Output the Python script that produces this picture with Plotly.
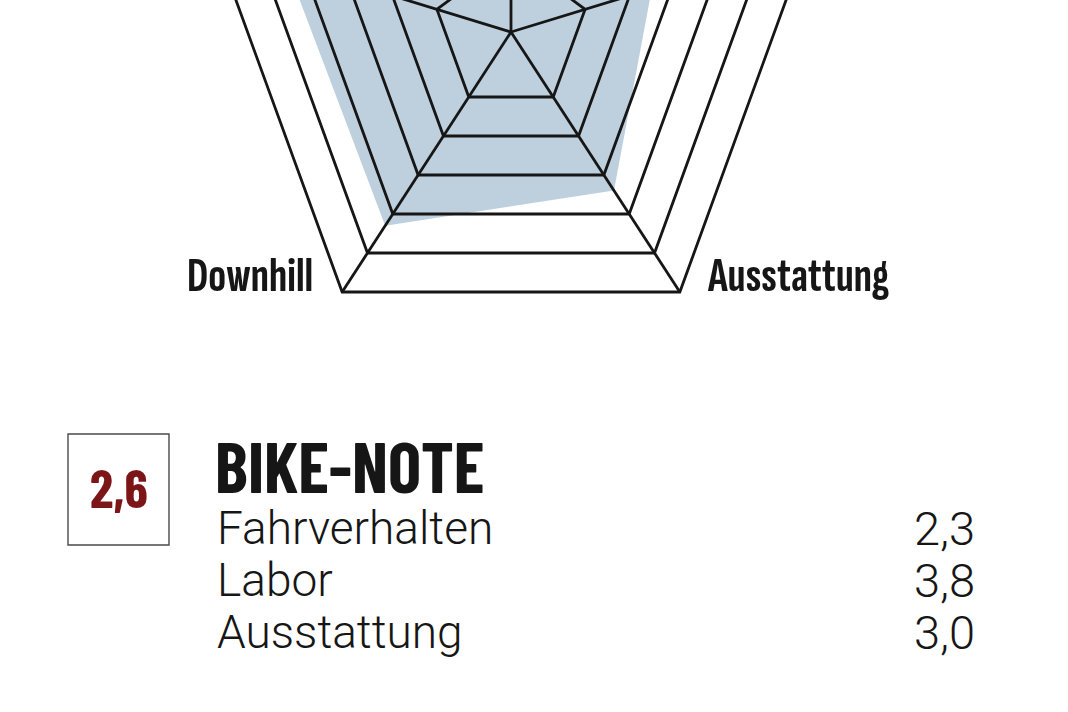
import math
import plotly.graph_objects as go

# ---------------- data ----------------
AXES = ["Uphill", "Handling", "Downhill", "Ausstattung", "Laufruhe"]
AXIS_ANGLES = [90, 163, 237, 303, 17]          # spoke directions (degrees)
SCORES = [4.0, 4.4, 4.3, 3.4, 2.5]             # radar values per axis
GRID_LEVELS = [1, 2, 3, 4, 5, 6]
RADIAL_RANGE = [-2 / 3, 6]

TOTAL_LABEL = "BIKE-NOTE"
TOTAL_GRADE = "2,6"
SUB_LABELS = ["Fahrverhalten", "Labor", "Ausstattung"]
SUB_GRADES = ["2,3", "3,8", "3,0"]

# ---------------- geometry / style ----------------
W, H = 1068, 712
CX, CY = 511, 32          # radar centre inside the figure (px, top-left origin)
R_OUT = 310               # pixel radius of the outer ring
FILL = "#bed0dd"
INK = "#161616"
RED = "#7c1518"
AXIS_FONT = "Sofia Sans Extra Condensed, Saira ExtraCondensed, Barlow Condensed, sans-serif"
COND = "Barlow Condensed, sans-serif"
LIGHT = "Roboto, Liberation Sans, sans-serif"


def rad(v):
    return R_OUT * (v - RADIAL_RANGE[0]) / (RADIAL_RANGE[1] - RADIAL_RANGE[0])


def pt(v, ang):
    r = rad(v)
    a = math.radians(ang)
    return r * math.cos(a), r * math.sin(a)


fig = go.Figure()

# score area
sx, sy = zip(*[pt(v, a) for v, a in zip(SCORES + SCORES[:1], AXIS_ANGLES + AXIS_ANGLES[:1])])
fig.add_trace(go.Scatter(x=sx, y=sy, mode="lines", fill="toself", fillcolor=FILL,
                         line=dict(width=0, color=FILL), hoverinfo="skip"))

# rings and spokes
gx, gy = [], []
for lv in GRID_LEVELS:
    for a in AXIS_ANGLES + AXIS_ANGLES[:1]:
        x, y = pt(lv, a)
        gx.append(x); gy.append(y)
    gx.append(None); gy.append(None)
for a in AXIS_ANGLES:
    x0, y0 = pt(RADIAL_RANGE[0], a)
    x1, y1 = pt(GRID_LEVELS[-1], a)
    gx += [x0, x1, None]; gy += [y0, y1, None]
fig.add_trace(go.Scatter(x=gx, y=gy, mode="lines", line=dict(color=INK, width=2.8),
                         hoverinfo="skip"))

# axis labels
for name, a in zip(AXES, AXIS_ANGLES):
    x, y = pt(GRID_LEVELS[-1], a)
    c = math.cos(math.radians(a))
    if abs(c) < 0.2:
        xa, xs = "center", 0
    elif c < 0:
        xa, xs = "right", -27
    else:
        xa, xs = "left", 25
    fig.add_annotation(x=x, y=y, xref="x", yref="y", text=name, showarrow=False,
                       xanchor=xa, yanchor="middle", xshift=xs, yshift=15,
                       font=dict(family=AXIS_FONT, size=49, color=INK, weight=700))


# ---------------- bottom block ----------------
def px(x):
    return x / W


def py(y):
    return 1 - y / H


fig.add_shape(type="rect", xref="paper", yref="paper",
              x0=px(68), x1=px(169), y0=py(545), y1=py(434),
              line=dict(color="#4a4a4a", width=1.4), fillcolor="white")
fig.add_annotation(x=px(119), y=py(487), xref="paper", yref="paper", text=TOTAL_GRADE,
                   showarrow=False, xanchor="center", yanchor="middle",
                   font=dict(family=COND, size=53, color=RED, weight=700))
fig.add_annotation(x=px(213), y=py(465), xref="paper", yref="paper", text=TOTAL_LABEL,
                   showarrow=False, xanchor="left", yanchor="middle",
                   font=dict(family=COND, size=70, color=INK, weight=700))
for i, (lab, g) in enumerate(zip(SUB_LABELS, SUB_GRADES)):
    cy = 528 + 52 * i
    fig.add_annotation(x=px(215), y=py(cy), xref="paper", yref="paper", text=lab,
                       showarrow=False, xanchor="left", yanchor="middle",
                       font=dict(family=LIGHT, size=46, color=INK, weight=300))
    fig.add_annotation(x=px(977), y=py(cy), xref="paper", yref="paper", text=g,
                       showarrow=False, xanchor="right", yanchor="middle",
                       font=dict(family=LIGHT, size=47, color=INK, weight=300))

fig.update_xaxes(range=[-CX, W - CX], visible=False, fixedrange=True)
fig.update_yaxes(range=[-(H - CY), CY], visible=False, fixedrange=True)
fig.update_layout(width=W, height=H, margin=dict(l=0, r=0, t=0, b=0),
                  paper_bgcolor="white", plot_bgcolor="white", showlegend=False)

fig.write_html("out.html", config={"displayModeBar": False},
               post_script="document.body.style.margin='0';")
